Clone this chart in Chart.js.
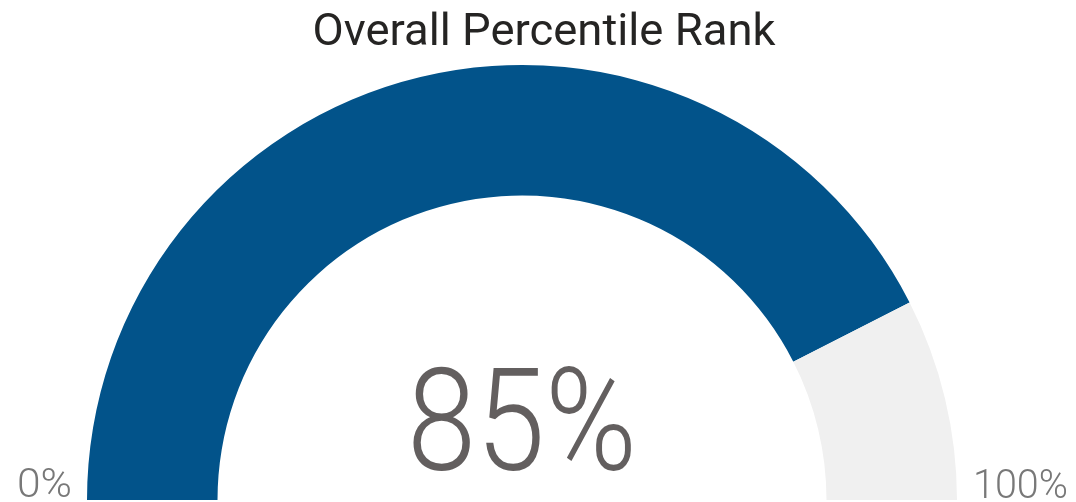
<!DOCTYPE html>
<html>
<head>
<meta charset="utf-8">
<script src="https://cdn.jsdelivr.net/npm/chart.js@4.4.1/dist/chart.umd.min.js"></script>
<style>
  html, body { margin: 0; padding: 0; background: #ffffff; }
  #wrap { position: relative; width: 1076px; height: 502px; }
</style>
</head>
<body>
<div id="wrap"><canvas id="c" width="1076" height="502"></canvas></div>
<script>
// ---- data ----
const chartTitle = 'Overall Percentile Rank';
const categories = ['Percentile Rank', 'Remaining'];
const values = [85, 15];
const minLabel = '0%';
const maxLabel = '100%';
const valueLabel = '85%';
const colors = ['#02538a', '#f0f0f0'];

function drawFit(ctx, text, font, color, x, baseline, targetW, align) {
  ctx.save();
  ctx.font = font;
  ctx.fillStyle = color;
  ctx.textBaseline = 'alphabetic';
  ctx.textAlign = 'left';
  const w = ctx.measureText(text).width;
  const s = targetW / w;
  let left = x;
  if (align === 'center') left = x - targetW / 2;
  else if (align === 'right') left = x - targetW;
  ctx.translate(left, baseline);
  ctx.scale(s, 1);
  ctx.fillText(text, 0, 0);
  ctx.restore();
}

const labelsPlugin = {
  id: 'gaugeLabels',
  afterDraw(chart) {
    const ctx = chart.ctx;
    const meta = chart.getDatasetMeta(0);
    const arc = meta.data[0];
    const cx = arc.x;
    const cy = arc.y;
    drawFit(ctx, chartTitle, '400 45px Roboto, "DejaVu Sans", sans-serif', '#252423', 544, 45, 463, 'center');
    drawFit(ctx, valueLabel, '300 143px Roboto, "DejaVu Sans", sans-serif', '#635f5f', cx, cy - 30, 230, 'center');
    drawFit(ctx, minLabel, '300 41px Roboto, "DejaVu Sans", sans-serif', '#787878', 17, 497, 55, 'left');
    drawFit(ctx, maxLabel, '300 41px Roboto, "DejaVu Sans", sans-serif', '#787878', 1068, 498, 95, 'right');
  }
};

new Chart(document.getElementById('c'), {
  type: 'doughnut',
  data: {
    labels: categories,
    datasets: [{
      data: values,
      backgroundColor: colors,
      borderWidth: 0,
      hoverOffset: 0
    }]
  },
  options: {
    responsive: false,
    animation: false,
    rotation: -90,
    circumference: 180,
    cutout: '70%',
    layout: { padding: { left: 87, right: 119, top: 65, bottom: 2 } },
    plugins: {
      legend: { display: false },
      title: { display: false },
      tooltip: { enabled: false }
    }
  },
  plugins: [labelsPlugin]
});
</script>
</body>
</html>
